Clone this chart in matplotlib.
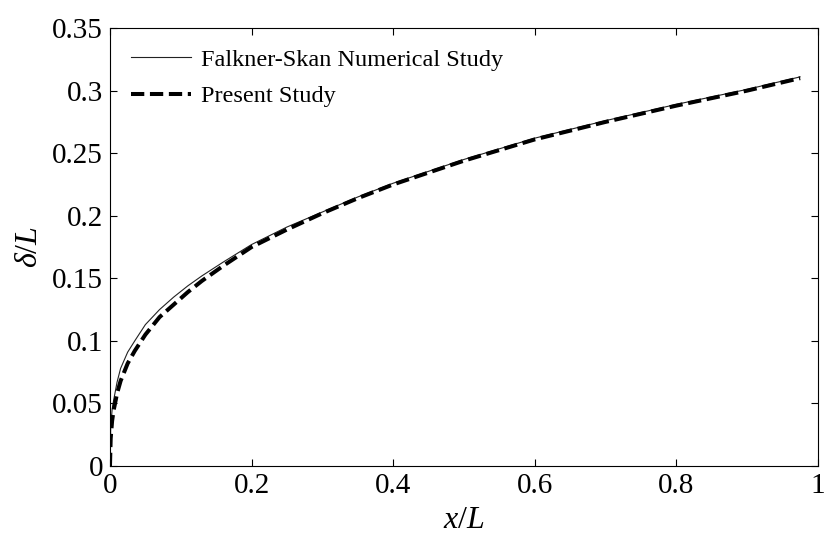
import numpy as np
import matplotlib
matplotlib.use('Agg')
import matplotlib.pyplot as plt

plt.rcParams['font.family'] = ['Liberation Serif', 'DejaVu Serif']
plt.rcParams['mathtext.fontset'] = 'custom'
plt.rcParams['mathtext.it'] = 'Liberation Serif:italic'
plt.rcParams['mathtext.rm'] = 'Liberation Serif'

# values
x_fs = [0, 0.001, 0.003, 0.005, 0.01, 0.015, 0.025, 0.035, 0.05, 0.07, 0.09,
        0.11, 0.13, 0.16, 0.2, 0.25, 0.3, 0.35, 0.4, 0.5, 0.6, 0.7, 0.8, 0.9, 0.975]
y_fs = [0, 0.03, 0.045, 0.052, 0.067, 0.078, 0.091, 0.100, 0.113, 0.125, 0.135,
        0.144, 0.152, 0.163, 0.177, 0.191, 0.203, 0.215, 0.226, 0.245, 0.262,
        0.276, 0.289, 0.301, 0.311]

x_ps = [0, 0.001, 0.003, 0.005, 0.01, 0.015, 0.025, 0.035, 0.05, 0.07, 0.09,
        0.11, 0.13, 0.16, 0.2, 0.25, 0.3, 0.35, 0.4, 0.5, 0.6, 0.7, 0.8, 0.9, 0.975]
y_ps = [0, 0.022, 0.036, 0.044, 0.058, 0.068, 0.082, 0.092, 0.105, 0.119, 0.129,
        0.139, 0.148, 0.160, 0.175, 0.189, 0.202, 0.214, 0.225, 0.244, 0.261,
        0.275, 0.288, 0.300, 0.310]

fig = plt.figure(figsize=(8.25, 5.4), dpi=100)
ax = fig.add_axes([0.1333, 0.137, 0.858, 0.811])

ax.plot(x_fs, y_fs, color='#222222', lw=0.8, label='Falkner-Skan Numerical Study')
ax.plot(x_ps, y_ps, color='black', lw=2.9, dashes=(3.3, 1.4),
        label='Present Study')

ax.set_xlim(0, 1)
ax.set_ylim(0, 0.35)
ax.set_xticks([0, 0.2, 0.4, 0.6, 0.8, 1])
ax.set_xticklabels(['0', '0.2', '0.4', '0.6', '0.8', '1'])
ax.set_yticks([0, 0.05, 0.1, 0.15, 0.2, 0.25, 0.3, 0.35])
ax.set_yticklabels(['0', '0.05', '0.1', '0.15', '0.2', '0.25', '0.3', '0.35'])
ax.tick_params(direction='in', top=True, right=True, length=5, width=0.8,
               labelsize=21, pad=5)

ax.set_xlabel('$x/L$', fontsize=23, labelpad=5)
ax.set_ylabel(r'$\delta/L$', fontsize=23, labelpad=6)

ax.legend(loc='upper left', frameon=False, fontsize=17.5, handlelength=2.5,
          handletextpad=0.4, borderaxespad=0.45, labelspacing=0.6)

fig.savefig('out.png', dpi=100)
